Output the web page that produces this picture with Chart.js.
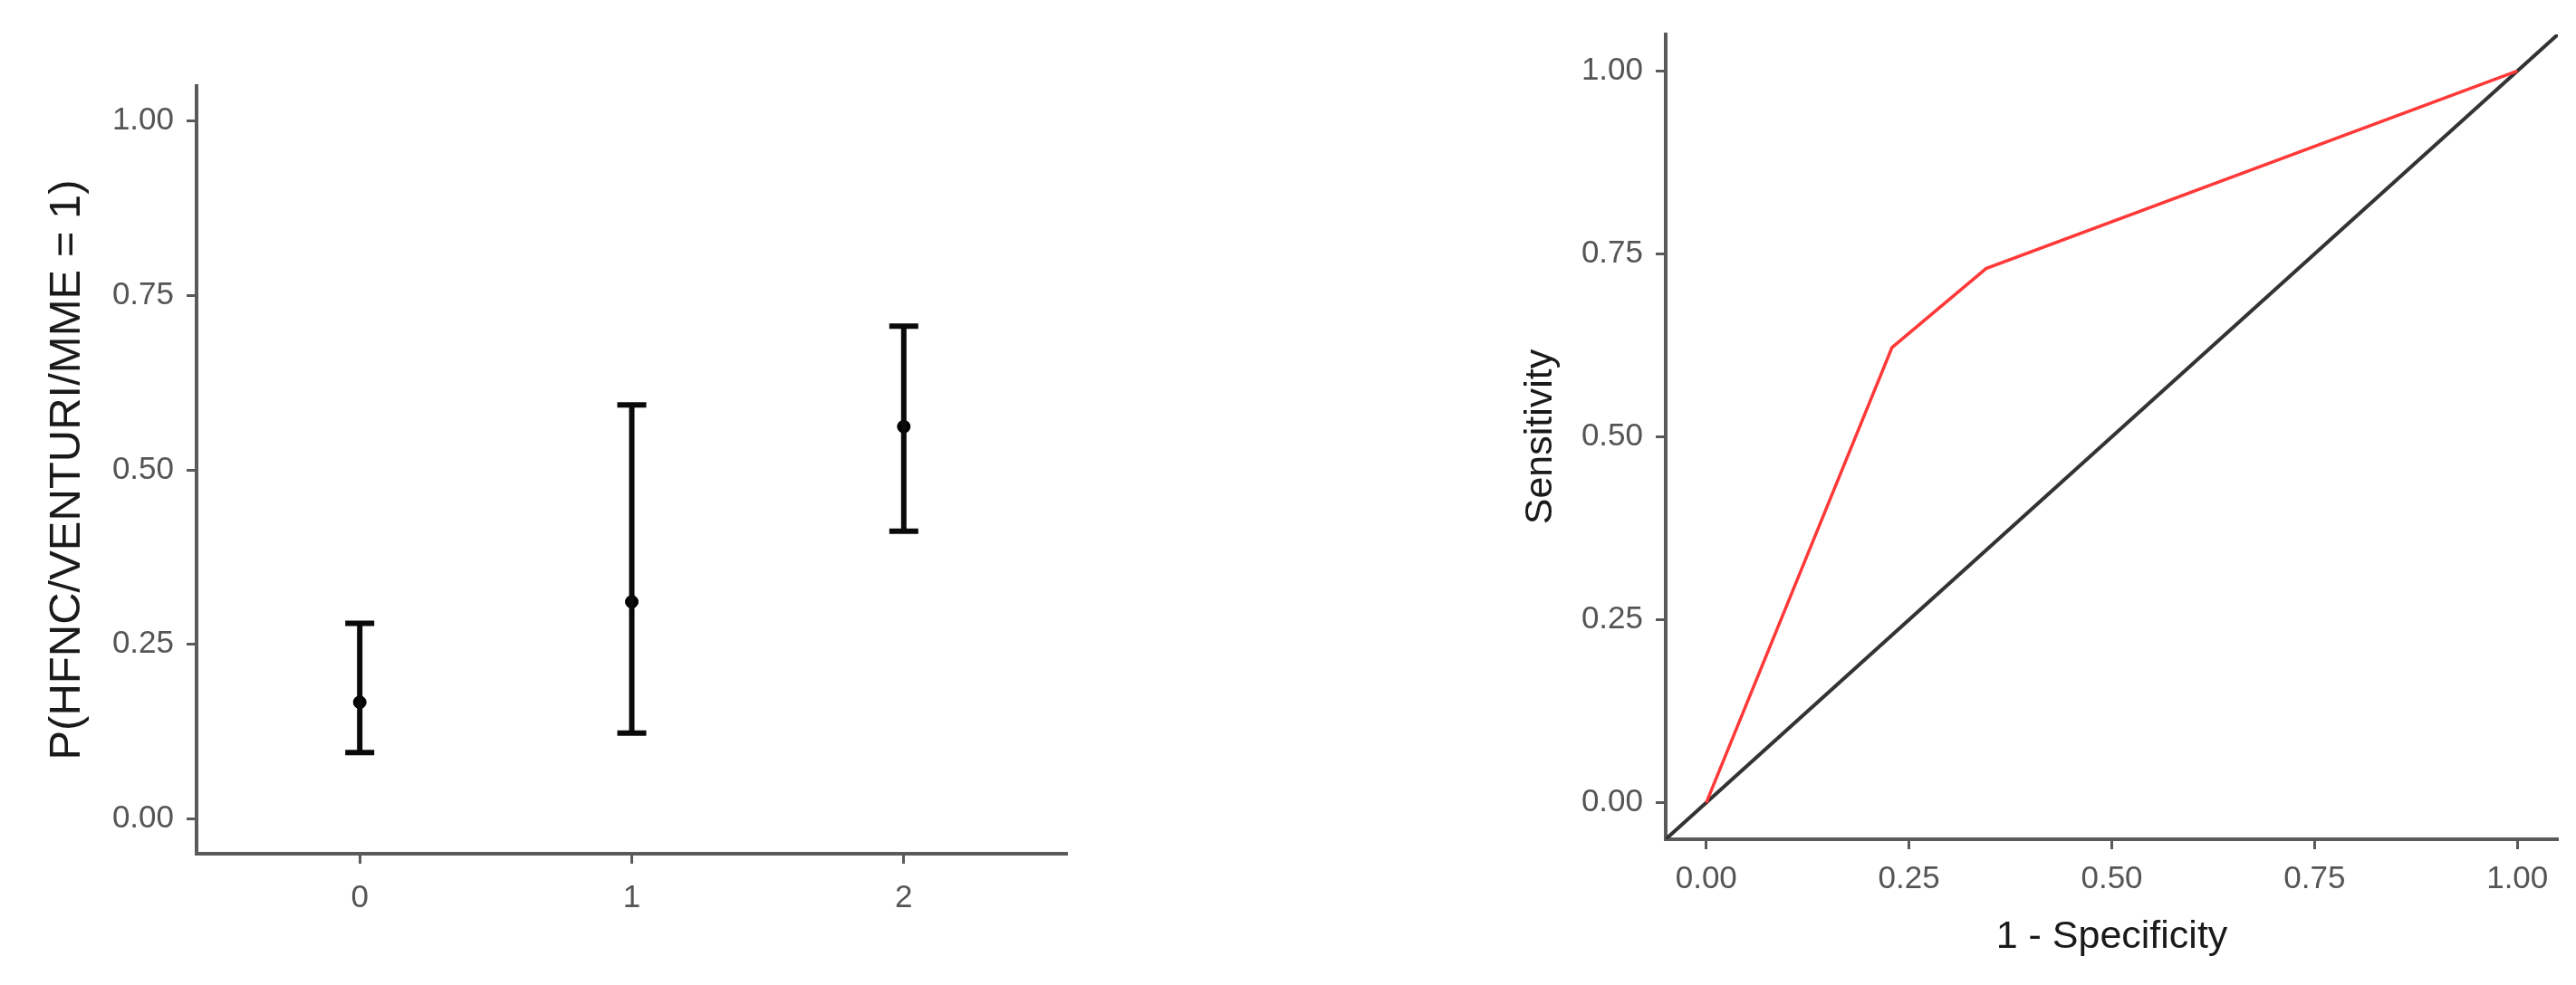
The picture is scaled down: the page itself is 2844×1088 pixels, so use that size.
<!DOCTYPE html>
<html lang="en">
<head>
    <meta charset="UTF-8">
    <title>Probability plot and ROC curve</title>
    <script src="https://cdn.jsdelivr.net/npm/chart.js"></script>
    <style>
        body {
            margin: 0;
            background: #ffffff;
            width: 2844px;
            height: 1088px;
            position: relative;
            overflow: hidden;
        }
        canvas {
            position: absolute;
            top: 0;
        }
        #graficoProb { left: 0; }
        #graficoRoc { left: 1600px; }
    </style>
</head>
<body>
    <canvas id="graficoProb" width="1200" height="1088"></canvas>
    <canvas id="graficoRoc" width="1244" height="1088"></canvas>

    <script>
        // Panel izquierdo: probabilidad estimada con IC
        const categorias = [0, 1, 2];
        const probEstimada = [0.167, 0.311, 0.562];
        const icInferior = [0.095, 0.123, 0.412];
        const icSuperior = [0.280, 0.593, 0.706];

        // Panel derecho: curva ROC
        const unoMenosEspecificidad = [0, 0.229, 0.345, 1];
        const sensibilidad = [0, 0.622, 0.730, 1];

        const ticksProb = [0, 0.25, 0.5, 0.75, 1];
        const ticksRoc = [0, 0.25, 0.5, 0.75, 1];
        const limiteInf = -0.05;
        const limiteSup = 1.05;

        const fuente = "'Liberation Sans', Arial, sans-serif";
        const grisEje = '#5a5a5a';
        const grisTexto = '#555555';

        function ejeBase(extra) {
            return Object.assign({
                grid: {
                    display: true,
                    drawOnChartArea: false,
                    drawTicks: true,
                    tickLength: 11,
                    tickWidth: 3,
                    tickColor: grisEje
                },
                border: { display: true, color: grisEje, width: 4 }
            }, extra);
        }

        // ---- Gráfico 1 ----
        const barras = categorias.map((c, i) => ({
            type: 'scatter',
            data: [{ x: c, y: icInferior[i] }, { x: c, y: icSuperior[i] }],
            showLine: true,
            borderColor: '#0a0a0a',
            borderWidth: 6,
            pointRadius: 0
        }));

        const topes = {
            type: 'scatter',
            data: categorias.flatMap((c, i) => [{ x: c, y: icInferior[i] }, { x: c, y: icSuperior[i] }]),
            pointStyle: 'line',
            pointRadius: 16,
            borderColor: '#0a0a0a',
            pointBorderWidth: 6,
            showLine: false
        };

        const puntos = {
            type: 'scatter',
            data: categorias.map((c, i) => ({ x: c, y: probEstimada[i] })),
            pointStyle: 'circle',
            pointRadius: 7,
            backgroundColor: '#000000',
            borderColor: '#000000',
            showLine: false
        };

        new Chart(document.getElementById('graficoProb'), {
            type: 'scatter',
            data: { datasets: [...barras, topes, puntos] },
            options: {
                responsive: false,
                animation: false,
                layout: { padding: { top: 95, right: 21, left: 0, bottom: 0 } },
                plugins: { legend: { display: false }, tooltip: { enabled: false } },
                scales: {
                    x: ejeBase({
                        type: 'linear',
                        min: -0.6,
                        max: 2.6,
                        afterBuildTicks: s => { s.ticks = categorias.map(v => ({ value: v })); },
                        afterFit: s => { s.height = 145; },
                        ticks: {
                            padding: 17,
                            color: grisTexto,
                            font: { family: fuente, size: 35 },
                            callback: v => String(v)
                        }
                    }),
                    y: ejeBase({
                        type: 'linear',
                        min: limiteInf,
                        max: limiteSup,
                        afterBuildTicks: s => { s.ticks = ticksProb.map(v => ({ value: v })); },
                        afterFit: s => { s.width = 217; },
                        ticks: {
                            padding: 14,
                            color: grisTexto,
                            font: { family: fuente, size: 35 },
                            callback: v => Number(v).toFixed(2)
                        },
                        title: {
                            display: true,
                            text: 'P(HFNC/VENTURI/MME = 1)',
                            color: '#1a1a1a',
                            font: { family: fuente, size: 49 },
                            padding: { top: 45, bottom: 0 }
                        }
                    })
                }
            }
        });

        // ---- Gráfico 2 (ROC) ----
        new Chart(document.getElementById('graficoRoc'), {
            type: 'scatter',
            data: {
                datasets: [
                    {
                        label: 'ROC',
                        data: unoMenosEspecificidad.map((x, i) => ({ x: x, y: sensibilidad[i] })),
                        showLine: true,
                        borderColor: '#ff3838',
                        borderWidth: 3.5,
                        pointRadius: 0
                    },
                    {
                        label: 'Referencia',
                        data: [{ x: limiteInf, y: limiteInf }, { x: limiteSup, y: limiteSup }],
                        showLine: true,
                        borderColor: '#333333',
                        borderWidth: 4,
                        pointRadius: 0
                    }
                ]
            },
            options: {
                responsive: false,
                animation: false,
                layout: { padding: { top: 38, right: 20, left: 0, bottom: 0 } },
                plugins: { legend: { display: false }, tooltip: { enabled: false } },
                scales: {
                    x: ejeBase({
                        type: 'linear',
                        min: limiteInf,
                        max: limiteSup,
                        afterBuildTicks: s => { s.ticks = ticksRoc.map(v => ({ value: v })); },
                        afterFit: s => { s.height = 161; },
                        ticks: {
                            padding: 12,
                            color: grisTexto,
                            font: { family: fuente, size: 35 },
                            callback: v => Number(v).toFixed(2)
                        },
                        title: {
                            display: true,
                            text: '1 - Specificity',
                            color: '#1a1a1a',
                            font: { family: fuente, size: 43 },
                            padding: { top: 0, bottom: 27 }
                        }
                    }),
                    y: ejeBase({
                        type: 'linear',
                        min: limiteInf,
                        max: limiteSup,
                        afterBuildTicks: s => { s.ticks = ticksRoc.map(v => ({ value: v })); },
                        afterFit: s => { s.width = 239; },
                        ticks: {
                            padding: 14,
                            color: grisTexto,
                            font: { family: fuente, size: 35 },
                            callback: v => Number(v).toFixed(2)
                        },
                        title: {
                            display: true,
                            text: 'Sensitivity',
                            color: '#1a1a1a',
                            font: { family: fuente, size: 43 },
                            padding: { top: 75, bottom: 0 }
                        }
                    })
                }
            }
        });
    </script>
</body>
</html>
